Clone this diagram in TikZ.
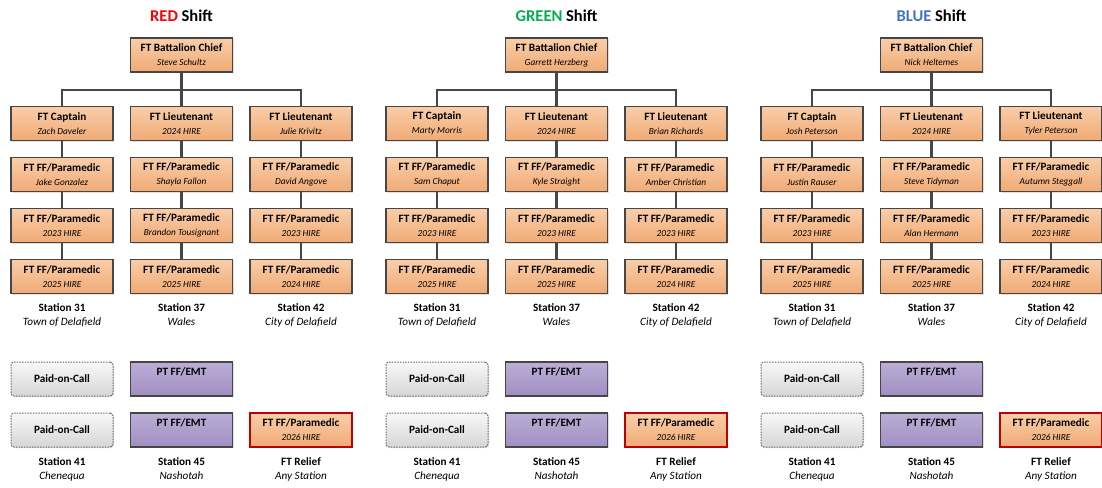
\documentclass[tikz,border=0pt]{standalone}
\usepackage{fontspec}
\setmainfont{Carlito}
\usetikzlibrary{positioning, calc, shadows}
\definecolor{ftorangetop}{RGB}{249, 206, 170}
\definecolor{ftorangebot}{RGB}{240, 170, 116}
\definecolor{ptpurpletop}{RGB}{188, 174, 214}
\definecolor{ptpurplebot}{RGB}{160, 142, 194}
\definecolor{pocgraytop}{RGB}{248, 248, 248}
\definecolor{pocgraybot}{RGB}{214, 214, 214}
\definecolor{boxline}{RGB}{70, 70, 70}
\definecolor{redshift}{RGB}{255, 0, 0}
\definecolor{greenshift}{RGB}{0, 176, 80}
\definecolor{blueshift}{RGB}{68, 114, 196}
\definecolor{reliefred}{RGB}{192, 0, 0}

\newcommand{\person}[1]{{\fontsize{9.3}{14}\selectfont\mdseries\itshape #1}}

\tikzset{
  basebox/.style={rectangle, minimum width=102pt, minimum height=34pt, inner sep=0pt,
    align=center, font=\fontsize{11.2}{14}\selectfont\bfseries,
    drop shadow={shadow xshift=1pt, shadow yshift=-1pt, opacity=.25}},
  ftbox/.style={basebox, draw=boxline, line width=1.3pt, top color=ftorangetop, bottom color=ftorangebot},
  ptbox/.style={basebox, draw=boxline, line width=1.3pt, top color=ptpurpletop, bottom color=ptpurplebot},
  pocbox/.style={basebox, draw=boxline!80, line width=1pt, dash pattern=on 1.5pt off 1.2pt,
    rounded corners=3pt, top color=pocgraytop, bottom color=pocgraybot},
  reliefbox/.style={ftbox, draw=reliefred, line width=2.4pt},
  stationlbl/.style={align=center, inner sep=0pt, font=\fontsize{11.2}{14}\selectfont},
  shifttitle/.style={inner sep=0pt, font=\fontsize{16.5}{18}\selectfont\bfseries},
  orgline/.style={draw=boxline, line width=2.2pt}
}

\begin{document}
\begin{tikzpicture}[x=1pt, y=-1pt]
  \useasboundingbox (0,0) rectangle (1102,487);

  % RED shift
  \begin{scope}
    \node[shifttitle] (titler) at (181.5,16) {\textcolor{redshift}{RED} Shift};
    \node[ftbox] (chiefr) at (181.5,55) {FT Battalion Chief\\\person{Steve Schultz}};
    \node[ftbox] (a1r) at (62,123.5) {FT Captain\\\person{Zach Daveler}};
    \node[ftbox] (b1r) at (181.5,123.5) {FT Lieutenant\\\person{2024 HIRE}};
    \node[ftbox] (c1r) at (301,123.5) {FT Lieutenant\\\person{Julie Krivitz}};
    \node[ftbox] (a2r) at (62,174.5) {FT FF/Paramedic\\\person{Jake Gonzalez}};
    \node[ftbox] (b2r) at (181.5,174.5) {FT FF/Paramedic\\\person{Shayla Fallon}};
    \node[ftbox] (c2r) at (301,174.5) {FT FF/Paramedic\\\person{David Angove}};
    \node[ftbox] (a3r) at (62,225.5) {FT FF/Paramedic\\\person{2023 HIRE}};
    \node[ftbox] (b3r) at (181.5,225.5) {FT FF/Paramedic\\\person{Brandon Tousignant}};
    \node[ftbox] (c3r) at (301,225.5) {FT FF/Paramedic\\\person{2023 HIRE}};
    \node[ftbox] (a4r) at (62,276.5) {FT FF/Paramedic\\\person{2025 HIRE}};
    \node[ftbox] (b4r) at (181.5,276.5) {FT FF/Paramedic\\\person{2025 HIRE}};
    \node[ftbox] (c4r) at (301,276.5) {FT FF/Paramedic\\\person{2024 HIRE}};

    \node[stationlbl] (sta1r) at (62,315) {\textbf{Station 31}\\\textit{Town of Delafield}};
    \node[stationlbl] (stb1r) at (181.5,315) {\textbf{Station 37}\\\textit{Wales}};
    \node[stationlbl] (stc1r) at (301,315) {\textbf{Station 42}\\\textit{City of Delafield}};

    \node[pocbox] (poc1r) at (62,379) {Paid-on-Call};
    \node[pocbox] (poc2r) at (62,430) {Paid-on-Call};
    \node[ptbox] (pt1r) at (181.5,379) {PT FF/EMT\\\mbox{}};
    \node[ptbox] (pt2r) at (181.5,430) {PT FF/EMT\\\mbox{}};
    \node[reliefbox] (reliefr) at (301,430) {FT FF/Paramedic\\\person{2026 HIRE}};

    \node[stationlbl] (sta2r) at (62,469) {\textbf{Station 41}\\\textit{Chenequa}};
    \node[stationlbl] (stb2r) at (181.5,469) {\textbf{Station 45}\\\textit{Nashotah}};
    \node[stationlbl] (stc2r) at (301,469) {\textbf{FT Relief}\\\textit{Any Station}};

    % chain of command
    \draw[orgline] (chiefr.south) -- ++(0,17) -| (a1r.north);
    \draw[orgline] (chiefr.south) -- ++(0,17) -| (c1r.north);
    \draw[orgline] (chiefr) -- (b1r);
    \foreach \from/\to in {a1r/a2r, a2r/a3r, a3r/a4r, b1r/b2r, b2r/b3r, b3r/b4r, c1r/c2r, c2r/c3r, c3r/c4r}
      \draw[orgline] (\from) -- (\to);
  \end{scope}

  % GREEN shift
  \begin{scope}[xshift=375pt]
    \node[shifttitle] (titleg) at (181.5,16) {\textcolor{greenshift}{GREEN} Shift};
    \node[ftbox] (chiefg) at (181.5,55) {FT Battalion Chief\\\person{Garrett Herzberg}};
    \node[ftbox] (a1g) at (62,123.5) {FT Captain\\\person{Marty Morris}};
    \node[ftbox] (b1g) at (181.5,123.5) {FT Lieutenant\\\person{2024 HIRE}};
    \node[ftbox] (c1g) at (301,123.5) {FT Lieutenant\\\person{Brian Richards}};
    \node[ftbox] (a2g) at (62,174.5) {FT FF/Paramedic\\\person{Sam Chaput}};
    \node[ftbox] (b2g) at (181.5,174.5) {FT FF/Paramedic\\\person{Kyle Straight}};
    \node[ftbox] (c2g) at (301,174.5) {FT FF/Paramedic\\\person{Amber Christian}};
    \node[ftbox] (a3g) at (62,225.5) {FT FF/Paramedic\\\person{2023 HIRE}};
    \node[ftbox] (b3g) at (181.5,225.5) {FT FF/Paramedic\\\person{2023 HIRE}};
    \node[ftbox] (c3g) at (301,225.5) {FT FF/Paramedic\\\person{2023 HIRE}};
    \node[ftbox] (a4g) at (62,276.5) {FT FF/Paramedic\\\person{2025 HIRE}};
    \node[ftbox] (b4g) at (181.5,276.5) {FT FF/Paramedic\\\person{2025 HIRE}};
    \node[ftbox] (c4g) at (301,276.5) {FT FF/Paramedic\\\person{2024 HIRE}};

    \node[stationlbl] (sta1g) at (62,315) {\textbf{Station 31}\\\textit{Town of Delafield}};
    \node[stationlbl] (stb1g) at (181.5,315) {\textbf{Station 37}\\\textit{Wales}};
    \node[stationlbl] (stc1g) at (301,315) {\textbf{Station 42}\\\textit{City of Delafield}};

    \node[pocbox] (poc1g) at (62,379) {Paid-on-Call};
    \node[pocbox] (poc2g) at (62,430) {Paid-on-Call};
    \node[ptbox] (pt1g) at (181.5,379) {PT FF/EMT\\\mbox{}};
    \node[ptbox] (pt2g) at (181.5,430) {PT FF/EMT\\\mbox{}};
    \node[reliefbox] (reliefg) at (301,430) {FT FF/Paramedic\\\person{2026 HIRE}};

    \node[stationlbl] (sta2g) at (62,469) {\textbf{Station 41}\\\textit{Chenequa}};
    \node[stationlbl] (stb2g) at (181.5,469) {\textbf{Station 45}\\\textit{Nashotah}};
    \node[stationlbl] (stc2g) at (301,469) {\textbf{FT Relief}\\\textit{Any Station}};

    % chain of command
    \draw[orgline] (chiefg.south) -- ++(0,17) -| (a1g.north);
    \draw[orgline] (chiefg.south) -- ++(0,17) -| (c1g.north);
    \draw[orgline] (chiefg) -- (b1g);
    \foreach \from/\to in {a1g/a2g, a2g/a3g, a3g/a4g, b1g/b2g, b2g/b3g, b3g/b4g, c1g/c2g, c2g/c3g, c3g/c4g}
      \draw[orgline] (\from) -- (\to);
  \end{scope}

  % BLUE shift
  \begin{scope}[xshift=750pt]
    \node[shifttitle] (titleb) at (181.5,16) {\textcolor{blueshift}{BLUE} Shift};
    \node[ftbox] (chiefb) at (181.5,55) {FT Battalion Chief\\\person{Nick Heltemes}};
    \node[ftbox] (a1b) at (62,123.5) {FT Captain\\\person{Josh Peterson}};
    \node[ftbox] (b1b) at (181.5,123.5) {FT Lieutenant\\\person{2024 HIRE}};
    \node[ftbox] (c1b) at (301,123.5) {FT Lieutenant\\\person{Tyler Peterson}};
    \node[ftbox] (a2b) at (62,174.5) {FT FF/Paramedic\\\person{Justin Rauser}};
    \node[ftbox] (b2b) at (181.5,174.5) {FT FF/Paramedic\\\person{Steve Tidyman}};
    \node[ftbox] (c2b) at (301,174.5) {FT FF/Paramedic\\\person{Autumn Steggall}};
    \node[ftbox] (a3b) at (62,225.5) {FT FF/Paramedic\\\person{2023 HIRE}};
    \node[ftbox] (b3b) at (181.5,225.5) {FT FF/Paramedic\\\person{Alan Hermann}};
    \node[ftbox] (c3b) at (301,225.5) {FT FF/Paramedic\\\person{2023 HIRE}};
    \node[ftbox] (a4b) at (62,276.5) {FT FF/Paramedic\\\person{2025 HIRE}};
    \node[ftbox] (b4b) at (181.5,276.5) {FT FF/Paramedic\\\person{2025 HIRE}};
    \node[ftbox] (c4b) at (301,276.5) {FT FF/Paramedic\\\person{2024 HIRE}};

    \node[stationlbl] (sta1b) at (62,315) {\textbf{Station 31}\\\textit{Town of Delafield}};
    \node[stationlbl] (stb1b) at (181.5,315) {\textbf{Station 37}\\\textit{Wales}};
    \node[stationlbl] (stc1b) at (301,315) {\textbf{Station 42}\\\textit{City of Delafield}};

    \node[pocbox] (poc1b) at (62,379) {Paid-on-Call};
    \node[pocbox] (poc2b) at (62,430) {Paid-on-Call};
    \node[ptbox] (pt1b) at (181.5,379) {PT FF/EMT\\\mbox{}};
    \node[ptbox] (pt2b) at (181.5,430) {PT FF/EMT\\\mbox{}};
    \node[reliefbox] (reliefb) at (301,430) {FT FF/Paramedic\\\person{2026 HIRE}};

    \node[stationlbl] (sta2b) at (62,469) {\textbf{Station 41}\\\textit{Chenequa}};
    \node[stationlbl] (stb2b) at (181.5,469) {\textbf{Station 45}\\\textit{Nashotah}};
    \node[stationlbl] (stc2b) at (301,469) {\textbf{FT Relief}\\\textit{Any Station}};

    % chain of command
    \draw[orgline] (chiefb.south) -- ++(0,17) -| (a1b.north);
    \draw[orgline] (chiefb.south) -- ++(0,17) -| (c1b.north);
    \draw[orgline] (chiefb) -- (b1b);
    \foreach \from/\to in {a1b/a2b, a2b/a3b, a3b/a4b, b1b/b2b, b2b/b3b, b3b/b4b, c1b/c2b, c2b/c3b, c3b/c4b}
      \draw[orgline] (\from) -- (\to);
  \end{scope}
\end{tikzpicture}
\end{document}
